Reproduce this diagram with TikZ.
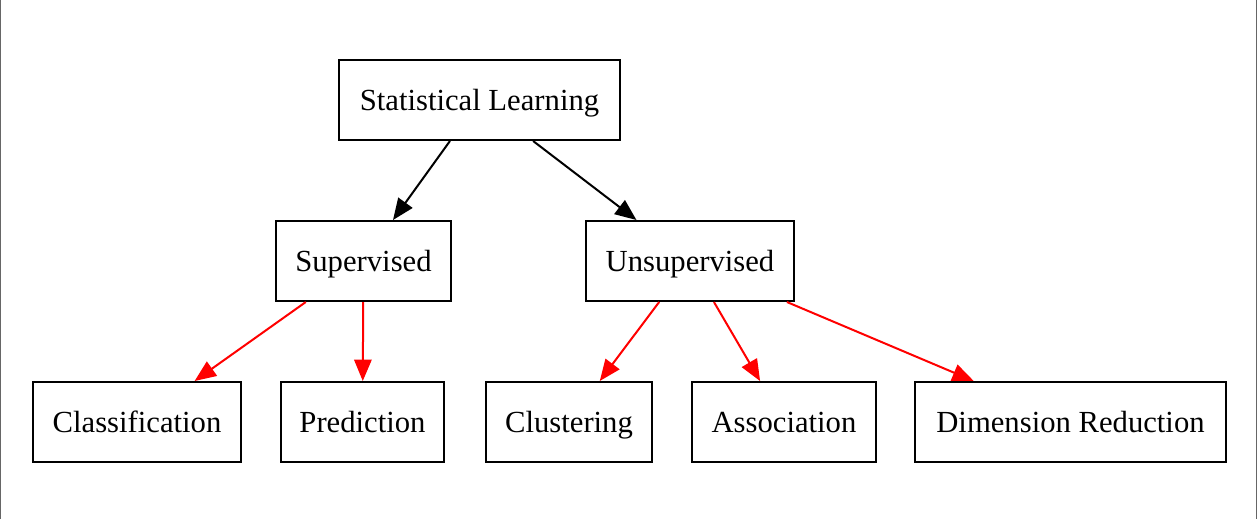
\documentclass[tikz,border=0pt]{standalone}
\usepackage{fontspec}
\setmainfont{Liberation Serif}
\usetikzlibrary{arrows.meta}
\tikzset{
	box/.style={draw,line width=1.5pt,minimum height=60pt,inner sep=0pt,text height=15.2pt,text depth=0pt,font=\fontsize{23}{27}\selectfont},
	edge/.style={line width=1.5pt,-{Triangle[length=16pt,width=13pt]}},
	rededge/.style={edge,red}
}
\begin{document}
\begin{tikzpicture}[x=0.75pt,y=-0.75pt]
		\useasboundingbox (0,0) rectangle (1258,519);
		\draw[color=black!60,line width=0.9pt] (0.6,0) -- (0.6,519);
		\draw[color=black!60,line width=0.9pt] (1256.5,0) -- (1256.5,519);
		% top
		\node[box,minimum width=210.75pt] (learn) at (479.5,100) {Statistical Learning};
		% middle
		\node[box,minimum width=131.25pt] (sup) at (363.5,261) {Supervised};
		\node[box,minimum width=156pt] (unsup) at (690,261) {Unsupervised};
		% bottom
		\node[box,minimum width=156pt] (class) at (137,422) {Classification};
		\node[box,minimum width=122.25pt] (pred) at (362.5,422) {Prediction};
		\node[box,minimum width=124.5pt] (clust) at (569,422) {Clustering};
		\node[box,minimum width=138pt] (assoc) at (784,422) {Association};
		\node[box,minimum width=233.25pt] (dimred) at (1070.5,422) {Dimension Reduction};
		\draw[edge] (learn) -- (sup);
		\draw[edge] (learn) -- (unsup);
		\draw[rededge] (sup) -- (class);
		\draw[rededge] (sup) -- (pred);
		\draw[rededge] (unsup) -- (clust);
		\draw[rededge] (unsup) -- (assoc);
		\draw[rededge] (unsup) -- (dimred);
\end{tikzpicture}
\end{document}
